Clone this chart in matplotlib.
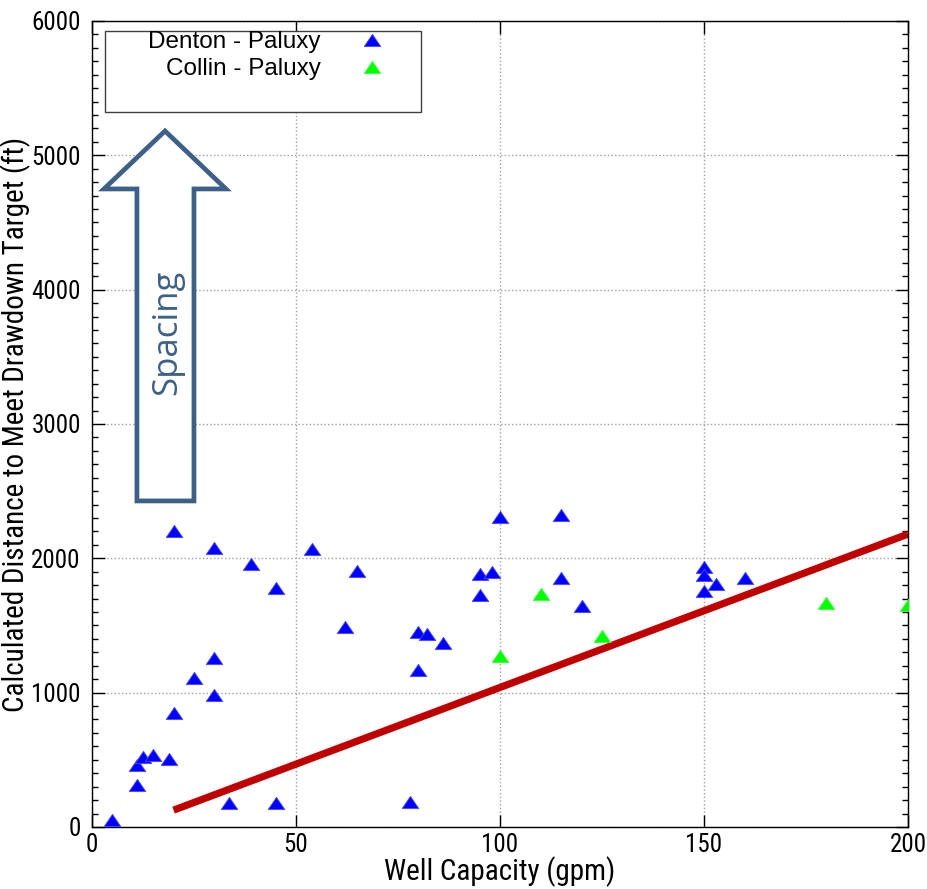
import matplotlib
matplotlib.use("Agg")
import matplotlib.pyplot as plt
from matplotlib import font_manager
from matplotlib.patches import Polygon, Rectangle
from matplotlib.ticker import MultipleLocator

# ---------------- data ----------------
denton_gpm = [5, 11, 11, 12.5, 15, 19, 20, 20, 25, 30, 30, 30, 33.5, 39, 45, 45, 54,
              62, 65, 78, 80, 80, 82, 86, 95, 95, 98, 100, 115, 115, 120,
              150, 150, 150, 153, 160]
denton_ft = [50, 310, 460, 520, 535, 505, 850, 2200, 1110, 980, 1260, 2080, 175, 1960, 180, 1780, 2070,
             1490, 1905, 185, 1165, 1450, 1440, 1370, 1725, 1885, 1900, 2310, 2325, 1850, 1645,
             1935, 1875, 1760, 1805, 1855]
collin_gpm = [100, 110, 125, 180, 200]
collin_ft = [1275, 1735, 1425, 1665, 1650]
trend_gpm = [20, 200]
trend_ft = [125, 2180]

series_labels = ["Denton - Paluxy", "Collin - Paluxy"]
x_label = "Well Capacity (gpm)"
y_label = "Calculated Distance to Meet Drawdown Target (ft)"
arrow_text = "Spacing"

# ---------------- fonts ----------------
names = {f.name for f in font_manager.fontManager.ttflist}
main_font = ["Roboto Condensed", "Archivo Narrow", "Liberation Sans", "DejaVu Sans"]
main_font = [f for f in main_font if f in names] or ["DejaVu Sans"]
plt.rcParams['font.family'] = main_font
legend_font = [f for f in ["Liberation Sans", "DejaVu Sans"] if f in names] or ["DejaVu Sans"]

fig = plt.figure(figsize=(9.28, 8.89), dpi=100)
ax = fig.add_axes([0.0991, 0.0698, 0.8793, 0.9066])

tri = [(-1, -0.735), (1, -0.735), (0, 0.735), (-1, -0.735)]

ax.plot(denton_gpm, denton_ft, linestyle='none', marker=tri, markersize=12.0,
        markerfacecolor='#0000ff', markeredgecolor='#4a4aff', markeredgewidth=0.6,
        label=series_labels[0], zorder=3)
ax.plot(collin_gpm, collin_ft, linestyle='none', marker=tri, markersize=12.0,
        markerfacecolor='#00ff00', markeredgecolor='#40ff40', markeredgewidth=0.6,
        label=series_labels[1], zorder=3)
ax.plot(trend_gpm, trend_ft, color='#c00000', linewidth=5.2, solid_capstyle='butt', zorder=2)

ax.set_xlim(0, 200)
ax.set_ylim(0, 6000)
ax.xaxis.set_major_locator(MultipleLocator(50))
ax.yaxis.set_major_locator(MultipleLocator(1000))
ax.yaxis.set_minor_locator(MultipleLocator(100))
ax.tick_params(which='both', direction='in', top=True, right=True, labelsize=18, colors='black')
ax.tick_params(which='major', length=9, width=1)
ax.tick_params(which='minor', length=4.5, width=1)
ax.tick_params(axis='y', pad=8)
ax.tick_params(axis='x', pad=4)
ax.grid(True, which='major', linestyle=':', color='#a0a0a0', linewidth=1.0)
for s in ax.spines.values():
    s.set_linewidth(1.0)

ax.set_xlabel(x_label, fontsize=21, labelpad=0)
ax.set_ylabel(y_label, fontsize=21, labelpad=0)

# legend
leg = ax.legend(loc='upper right', bbox_to_anchor=(0.373, 0.987), markerfirst=False,
                frameon=False, prop={'family': legend_font, 'size': 17.5}, numpoints=1,
                handlelength=2.0, handletextpad=1.1, labelspacing=0.2, borderpad=0,
                borderaxespad=0)
ax.add_patch(Rectangle((0.0159, 0.887), 0.3873, 0.1006, transform=ax.transAxes,
                       facecolor='white', edgecolor='#404040', linewidth=1.0, zorder=4))
leg.set_zorder(5)

# hollow block arrow
arrow_color = '#3d6088'
arr = [(0.0551, 0.4045), (0.1250, 0.4045), (0.1250, 0.7916), (0.1642, 0.7916),
       (0.0895, 0.8635), (0.0147, 0.7916), (0.0551, 0.7916)]
ax.add_patch(Polygon(arr, closed=True, transform=ax.transAxes, facecolor='white',
                     edgecolor=arrow_color, linewidth=3.4, joinstyle='miter', zorder=4))
ax.text(0.092, 0.614, arrow_text, transform=ax.transAxes, rotation=90, ha='center',
        va='center', fontsize=25, color=arrow_color, family=['Open Sans', 'DejaVu Sans'],
        zorder=5)

fig.savefig("out.png", dpi=100)
